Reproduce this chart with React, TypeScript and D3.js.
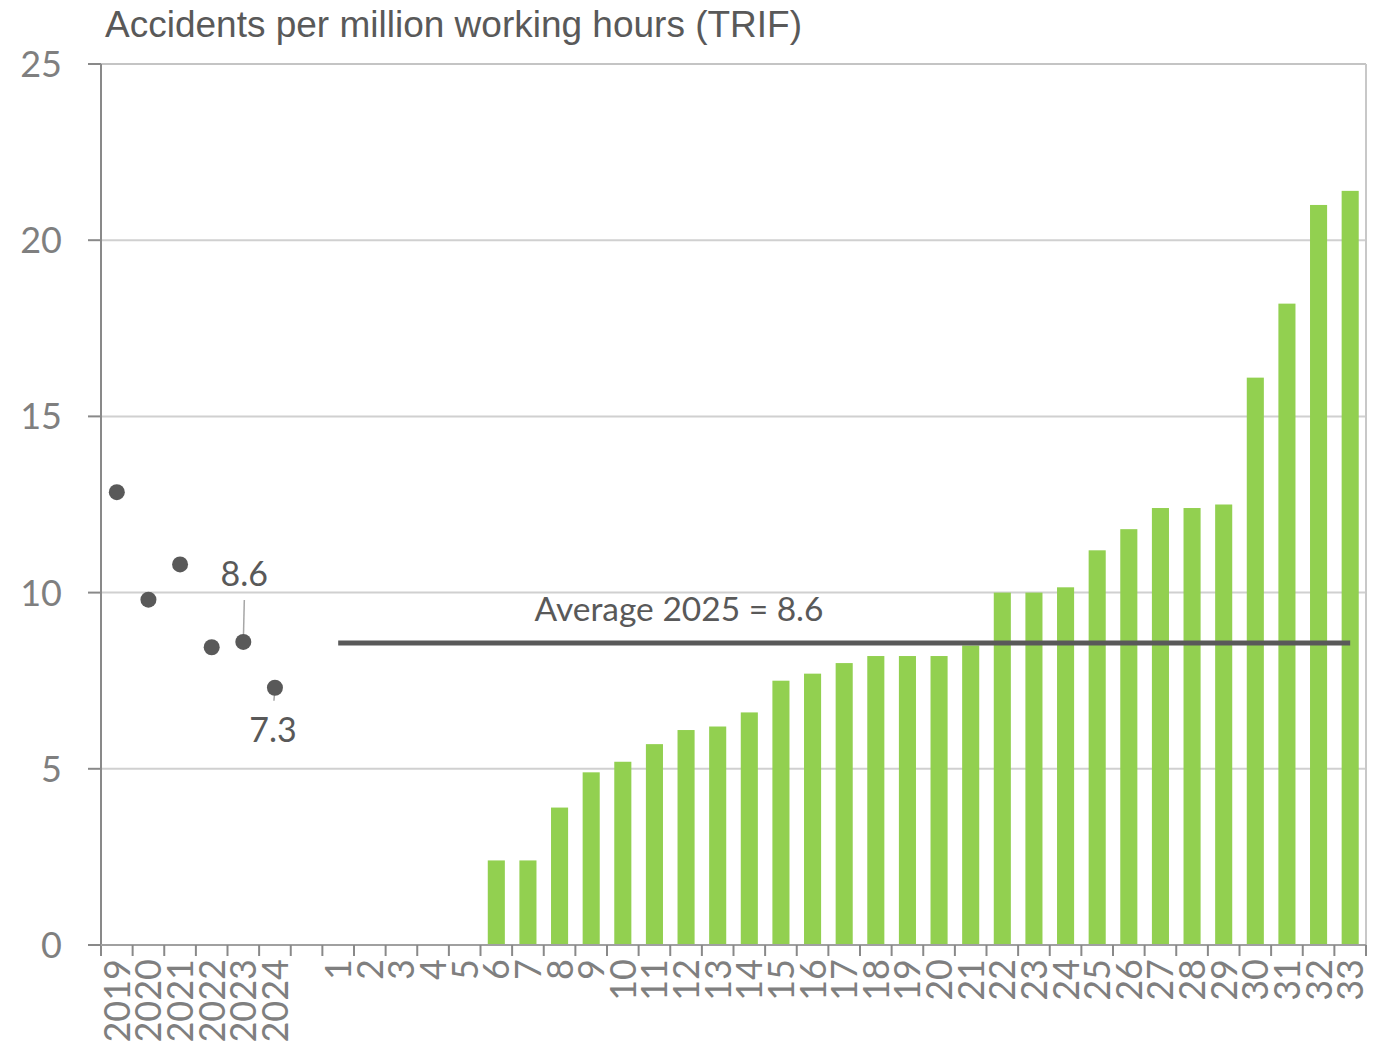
import React from "react";
import * as d3 from "d3";

const years = ["2019", "2020", "2021", "2022", "2023", "2024"];
const yearValues = [12.85, 9.8, 10.8, 8.45, 8.6, 7.3];
const gapKey = "gap";
const plants = ["1","2","3","4","5","6","7","8","9","10","11","12","13","14","15","16","17","18","19","20","21","22","23","24","25","26","27","28","29","30","31","32","33"];
const plantValues = [0,0,0,0,0,2.4,2.4,3.9,4.9,5.2,5.7,6.1,6.2,6.6,7.5,7.7,8.0,8.2,8.2,8.2,8.5,10.0,10.0,10.15,11.2,11.8,12.4,12.4,12.5,16.1,18.2,21.0,21.4];
const average2025 = 8.57;
const yTicks = [0, 5, 10, 15, 20, 25];
const title = "Accidents per million working hours (TRIF)";
const averageLabel = "Average 2025 = 8.6";
const labelledYears = [
  { year: "2023", text: "8.6", above: true },
  { year: "2024", text: "7.3", above: false },
];

const W = 1382, H = 1044;
const L = 101, R = 1366, T = 64, B = 945;

export default function App() {
  const domain = [...years, gapKey, ...plants];
  const x = d3.scaleBand<string>().domain(domain).range([L, R]).padding(0);
  const y = d3.scaleLinear().domain([0, 25]).range([B, T]);
  const bw = x.bandwidth();
  const cx = (k: string) => (x(k) as number) + bw / 2;
  const numFont = "Lato, 'Open Sans', sans-serif";
  const tickColor = "#7f7f7f";
  const avgY = y(average2025);

  return (
    <svg width={W} height={H} style={{ position: "absolute", left: 0, top: 0, background: "#fff" }}>
      {yTicks.filter((t) => t > 0).map((t) => (
        <line key={"g" + t} x1={L} x2={R} y1={y(t)} y2={y(t)} stroke={t === 25 ? "#c4c4c4" : "#d0d0d0"} strokeWidth={2} />
      ))}
      <line x1={R} x2={R} y1={T} y2={B} stroke="#c8c8c8" strokeWidth={2} />
      {plants.map((p, i) => plantValues[i] > 0 ? (
        <rect key={"b" + p} x={cx(p) - bw * 0.27} width={bw * 0.54} y={y(plantValues[i])} height={B - y(plantValues[i])} fill="#92D050" />
      ) : null)}
      <line x1={cx(plants[0])} x2={cx(plants[plants.length - 1])} y1={avgY} y2={avgY} stroke="#595959" strokeWidth={5} />
      <text x={679} y={621} textAnchor="middle" fontFamily={numFont} fontSize={33.5} fill="#595959">{averageLabel}</text>
      {labelledYears.map((l) => {
        const i = years.indexOf(l.year);
        const px = cx(l.year);
        const py = y(yearValues[i]);
        return (
          <g key={"l" + l.year}>
            {l.above ? (
              <>
                <line x1={px + 1} x2={px} y1={py - 42} y2={py} stroke="#a6a6a6" strokeWidth={1.5} />
                <text x={px + 1} y={py - 56} textAnchor="middle" fontFamily={numFont} fontSize={34} fill="#595959">{l.text}</text>
              </>
            ) : (
              <>
                <line x1={px} x2={px - 1} y1={py} y2={py + 13} stroke="#a6a6a6" strokeWidth={1.5} />
                <text x={px - 2} y={py + 54} textAnchor="middle" fontFamily={numFont} fontSize={34} fill="#595959">{l.text}</text>
              </>
            )}
          </g>
        );
      })}
      {years.map((yr, i) => (
        <circle key={"d" + yr} cx={cx(yr)} cy={y(yearValues[i])} r={8} fill="#595959" />
      ))}
      <line x1={L} x2={L} y1={T} y2={B + 11} stroke="#898989" strokeWidth={2} />
      <line x1={L - 13} x2={R} y1={B} y2={B} stroke="#a0a0a0" strokeWidth={2} />
      {yTicks.map((t) => (
        <g key={"yt" + t}>
          <line x1={L - 13} x2={L} y1={y(t)} y2={y(t)} stroke="#898989" strokeWidth={2} />
          <text x={62} y={y(t)} dy="0.36em" textAnchor="end" fontFamily={numFont} fontSize={36} fill={tickColor}>{t}</text>
        </g>
      ))}
      {domain.map((k) => (
        <line key={"xt" + k} x1={(x(k) as number) + bw} x2={(x(k) as number) + bw} y1={B} y2={B + 11} stroke="#898989" strokeWidth={2} />
      ))}
      {domain.filter((k) => k !== gapKey).map((k) => (
        <text key={"xl" + k} transform={`translate(${cx(k)},${959}) rotate(-90)`} dy="0.36em" textAnchor="end" fontFamily={numFont} fontSize={36} fill={tickColor}>{k}</text>
      ))}
      <text x={105} y={37} fontFamily="'Liberation Sans', Arial, sans-serif" fontSize={37} fill="#595959">{title}</text>
    </svg>
  );
}
